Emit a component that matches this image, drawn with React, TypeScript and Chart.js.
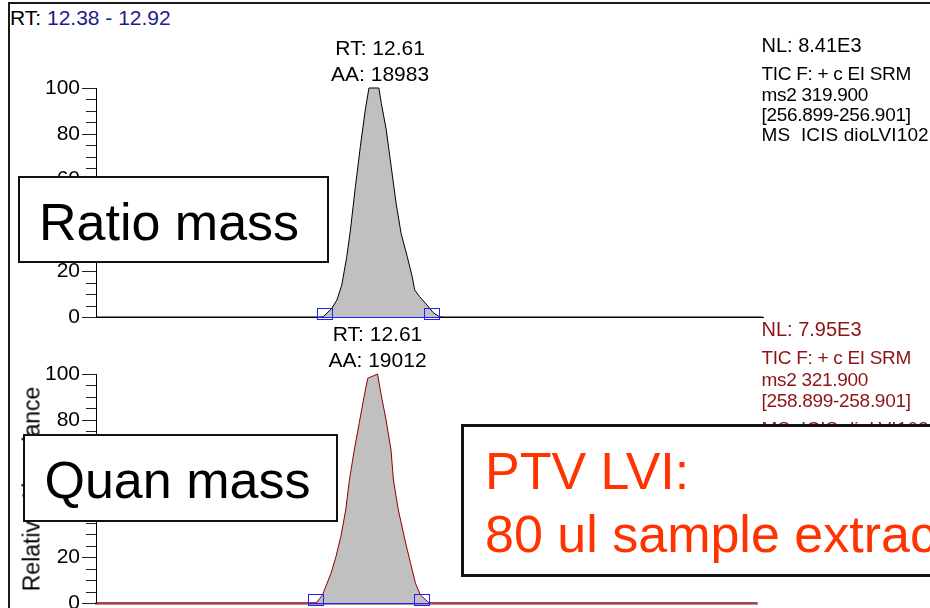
import React, { useEffect, useRef } from "react";
import { Chart, registerables } from "chart.js";

Chart.register(...registerables);

const FONT = '"Liberation Sans", Arial, Helvetica, sans-serif';

// Retention-time window shared by both traces (min)
const rtWindow = [12.38, 12.92];

// Relative abundance axis
const abundanceRange = [0, 100];
const abundanceMinorStep = 5;
const abundanceTickLabels = ["0", "20", "40", "60", "80", "100"];

// Ratio mass trace: ms2 319.900 -> [256.899-256.901]
const ratioRt = [
  12.38, 12.56, 12.564, 12.571, 12.575, 12.579, 12.583, 12.586, 12.59, 12.594, 12.598, 12.601,
  12.609, 12.611, 12.615, 12.619, 12.623, 12.627, 12.632, 12.636, 12.638, 12.642, 12.648,
  12.653, 12.658, 12.662, 12.92,
];
const ratioAbundance = [
  0, 0, 0.1, 3.8, 7.4, 14, 26.3, 38, 56.9, 74.4, 90.4, 100,
  100, 93.3, 81.7, 65.6, 49.6, 36.5, 26.3, 17.6, 11.8, 8.9, 5.2,
  1.9, 0.1, 0, 0,
];
const ratioPeakLimits = [12.565, 12.652];
const ratioPeakRt = 12.61;
const ratioPeakArea = 18983;
const ratioInfo = ["NL: 8.41E3", "TIC F: + c EI SRM", "ms2 319.900", "[256.899-256.901]", "MS  ICIS dioLVI102"];

// Quan mass trace: ms2 321.900 -> [258.899-258.901]
const quanRt = [
  12.38, 12.56, 12.565, 12.572, 12.576, 12.58, 12.584, 12.587, 12.591, 12.595, 12.599, 12.602,
  12.61, 12.613, 12.617, 12.621, 12.623, 12.627, 12.633, 12.637, 12.641, 12.645, 12.652,
  12.656, 12.92,
];
const quanAbundance = [
  0, 0, 3.5, 13, 20.2, 29, 40.6, 53.7, 66.8, 78.5, 90.1, 98.1,
  100, 90.8, 79.9, 66.8, 53.7, 40.6, 26.1, 17.3, 8.6, 3.5, 0.1,
  0, 0,
];
const quanPeakLimits = [12.559, 12.646];
const quanPeakRt = 12.61;
const quanPeakArea = 19012;
const quanInfo = ["NL: 7.95E3", "TIC F: + c EI SRM", "ms2 321.900", "[258.899-258.901]", "MS  ICIS dioLVI102"];

const INTEGRATION_BLUE = "#1e1eff";

// Draws the axis tick marks, integration markers and the apex annotation of each trace
const peakDecor = {
  id: "peakDecor",
  afterDraw(chart: any, _args: any, opts: any) {
    const { ctx, chartArea } = chart;
    const xs = chart.scales.x;
    const ys = chart.scales.y;
    ctx.save();

    ctx.strokeStyle = "#222";
    ctx.lineWidth = 1;
    ys.ticks.forEach((t: any) => {
      const y = Math.round(ys.getPixelForValue(t.value)) + 0.5;
      const major = abundanceTickLabels.includes(String(t.value));
      const len = major ? 14 : 10;
      ctx.beginPath();
      ctx.moveTo(chartArea.left - len, y);
      ctx.lineTo(chartArea.left, y);
      ctx.stroke();
    });

    const base = Math.round(ys.getPixelForValue(0)) + 0.5;
    const [s, e] = opts.limits.map((v: number) => xs.getPixelForValue(v));
    ctx.strokeStyle = INTEGRATION_BLUE;
    ctx.beginPath();
    ctx.moveTo(s - 7.5, base);
    ctx.lineTo(e + 7.5, base);
    ctx.stroke();
    [s, e].forEach((px: number) => {
      ctx.strokeRect(Math.round(px - 7.5) + 0.5, Math.round(base - 9) - 0.5, 15, 11);
    });

    const ax = xs.getPixelForValue(opts.apexRt);
    ctx.fillStyle = "#000";
    ctx.font = `21px ${FONT}`;
    ctx.textAlign = "center";
    ctx.textBaseline = "alphabetic";
    ctx.fillText(`RT: ${opts.apexRt.toFixed(2)}`, ax, chartArea.top - 33);
    ctx.fillText(`AA: ${opts.area}`, ax, chartArea.top - 7);
    ctx.restore();
  },
};

type TraceProps = {
  top: number;
  height: number;
  padding: { top: number; bottom: number; left: number; right: number };
  rt: number[];
  abundance: number[];
  lineColor: string;
  axisColor: string;
  axisWidth: number;
  axisOnTop: boolean;
  limits: number[];
  apexRt: number;
  area: number;
};

function TraceChart(p: TraceProps) {
  const ref = useRef<HTMLCanvasElement>(null);
  useEffect(() => {
    const chart = new Chart(ref.current as HTMLCanvasElement, {
      type: "line",
      data: {
        datasets: [
          {
            data: p.rt.map((x, i) => ({ x, y: p.abundance[i] })),
            borderColor: p.lineColor,
            borderWidth: 1,
            backgroundColor: "#c0c0c0",
            fill: "origin",
            pointRadius: 0,
            tension: 0,
            clip: 4,
          } as any,
        ],
      },
      options: {
        animation: false,
        responsive: false,
        maintainAspectRatio: false,
        events: [],
        layout: { padding: p.padding, autoPadding: false },
        plugins: {
          legend: { display: false },
          tooltip: { enabled: false },
          peakDecor: { limits: p.limits, apexRt: p.apexRt, area: p.area },
        } as any,
        scales: {
          x: {
            type: "linear",
            min: rtWindow[0],
            max: rtWindow[1],
            z: p.axisOnTop ? 1 : 0,
            ticks: { display: false },
            grid: { display: false, drawTicks: false },
            border: { display: true, color: p.axisColor, width: p.axisWidth },
            afterFit: (s: any) => {
              s.height = 0;
              s.paddingLeft = 0;
              s.paddingRight = 0;
            },
          },
          y: {
            min: abundanceRange[0],
            max: abundanceRange[1],
            ticks: {
              stepSize: abundanceMinorStep,
              autoSkip: false,
              padding: 16,
              color: "#000",
              font: { family: FONT, size: 21 },
              callback: (v: any) => (abundanceTickLabels.includes(String(v)) ? String(v) : ""),
            },
            grid: { display: false, drawTicks: false },
            border: { display: true, color: "#000", width: 1 },
            afterFit: (s: any) => {
              s.width = 96;
              s.paddingTop = 0;
              s.paddingBottom = 0;
            },
          },
        },
      },
      plugins: [peakDecor as any],
    });
    return () => chart.destroy();
  }, []);
  return (
    <canvas
      ref={ref}
      width={930}
      height={p.height}
      style={{ position: "absolute", left: 0, top: p.top, width: 930, height: p.height }}
    />
  );
}

function Txt(props: {
  x: number;
  baseline: number;
  size: number;
  color?: string;
  spacing?: number;
  children: React.ReactNode;
}) {
  const { x, baseline, size, color = "#000", spacing = 0, children } = props;
  return (
    <div
      style={{
        position: "absolute",
        left: x,
        top: baseline - 0.8465 * size,
        fontFamily: FONT,
        fontSize: size,
        lineHeight: `${size}px`,
        color,
        whiteSpace: "pre",
        letterSpacing: spacing,
      }}
    >
      {children}
    </div>
  );
}

function InfoBlock({ lines, baselines, color }: { lines: string[]; baselines: number[]; color: string }) {
  const spacingFor = (i: number) => (i === 0 ? 0 : i === lines.length - 1 ? 0.1 : -0.3);
  return (
    <>
      {lines.map((t, i) => (
        <Txt key={i} x={761.5} baseline={baselines[i]} size={i === 0 ? 20 : 19} spacing={spacingFor(i)} color={color}>
          {t}
        </Txt>
      ))}
    </>
  );
}

function Box(props: { left: number; top: number; width: number; height: number; border: number }) {
  return (
    <div
      style={{
        position: "absolute",
        left: props.left,
        top: props.top,
        width: props.width,
        height: props.height,
        boxSizing: "border-box",
        border: `${props.border}px solid #111`,
        background: "#fff",
      }}
    />
  );
}

export default function App() {
  return (
    <div
      style={{
        position: "fixed",
        left: 0,
        top: 0,
        width: 930,
        height: 608,
        overflow: "hidden",
        background: "#fff",
      }}
    >
      <div
        style={{
          position: "absolute",
          left: 8,
          top: 2,
          width: 960,
          height: 640,
          borderLeft: "2px solid #1a1a1a",
          borderTop: "2px solid #1a1a1a",
        }}
      />
      <Txt x={10} baseline={25} size={21}>
        RT:
        <span style={{ color: "#1c1c8c" }}>{` ${rtWindow[0].toFixed(2)} - ${rtWindow[1].toFixed(2)}`}</span>
      </Txt>

      <TraceChart
        top={0}
        height={340}
        padding={{ top: 88, bottom: 23, left: 0, right: 167 }}
        rt={ratioRt}
        abundance={ratioAbundance}
        lineColor="#000"
        axisColor="#000"
        axisWidth={1}
        axisOnTop={false}
        limits={ratioPeakLimits}
        apexRt={ratioPeakRt}
        area={ratioPeakArea}
      />
      <TraceChart
        top={300}
        height={308}
        padding={{ top: 74, bottom: 5, left: 0, right: 173 }}
        rt={quanRt}
        abundance={quanAbundance}
        lineColor="#8b0000"
        axisColor="#bb8a8a"
        axisWidth={3}
        axisOnTop={true}
        limits={quanPeakLimits}
        apexRt={quanPeakRt}
        area={quanPeakArea}
      />

      <InfoBlock lines={ratioInfo} baselines={[52, 80, 101, 121, 141]} color="#000" />
      <InfoBlock lines={quanInfo} baselines={[336, 364, 386, 407, 435]} color="#8c1414" />

      <div
        style={{
          position: "absolute",
          left: 31.5,
          top: 488.5,
          transform: "translate(-50%, -50%) rotate(-90deg)",
          fontFamily: FONT,
          fontSize: 23,
          lineHeight: "23px",
          whiteSpace: "nowrap",
          color: "#000",
        }}
      >
        Relative Abundance
      </div>

      <Box left={18} top={176} width={311} height={87} border={2} />
      <Txt x={39} baseline={240} size={52}>
        Ratio mass
      </Txt>

      <Box left={23} top={434} width={315} height={88} border={2} />
      <Txt x={44.5} baseline={498} size={52}>
        Quan mass
      </Txt>

      <Box left={461} top={424} width={600} height={153} border={3} />
      <Txt x={485} baseline={489} size={52} color="#ff3300">
        PTV LVI:
      </Txt>
      <Txt x={485} baseline={552} size={52} color="#ff3300">
        80 ul sample extract
      </Txt>
    </div>
  );
}
